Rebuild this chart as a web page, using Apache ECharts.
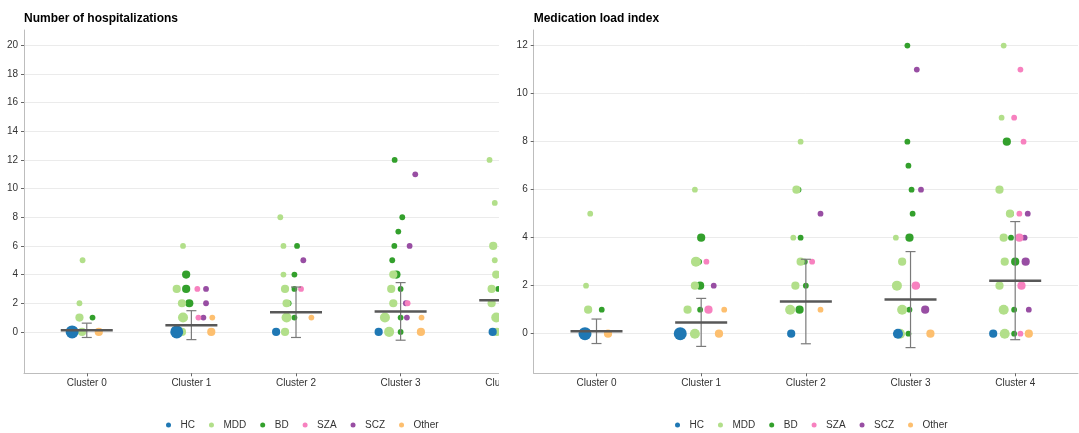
<!DOCTYPE html>
<html><head><meta charset="utf-8">
<script src="https://cdn.jsdelivr.net/npm/echarts@6/dist/echarts.min.js"></script>
<style>
html,body{margin:0;padding:0;background:#fff;width:1079px;height:433px;overflow:hidden}
#lw{position:absolute;left:0;top:0;width:499px;height:433px;overflow:hidden}
#l{position:absolute;left:0;top:0;width:620px;height:433px}
#r{position:absolute;left:499px;top:0;width:580px;height:433px}
</style></head><body>
<div id="lw"><div id="l"></div></div><div id="r"></div>
<script>
const categories = ['Cluster 0','Cluster 1','Cluster 2','Cluster 3','Cluster 4'];
const groups = ['HC','MDD','BD','SZA','SCZ','Other'];
const yTicksHosp = [0,2,4,6,8,10,12,14,16,18,20];
const yTicksMed = [0,2,4,6,8,10,12];

// points: [cluster index, value, jitter (in cluster units), count]
const hospHC = [[0,0,-0.14,5],[1,0,-0.14,5],[2,0,-0.19,2],[3,0,-0.21,2],[4,0,-0.12,2]];
const hospMDD = [
 [0,5,-0.04,1],[0,2,-0.07,1],[0,1,-0.07,2],[0,0,-0.045,2],
 [1,6,-0.08,1],[1,3,-0.14,2],[1,2,-0.09,2],[1,1,-0.08,3],[1,0,-0.09,2],
 [2,8,-0.15,1],[2,6,-0.12,1],[2,4,-0.12,1],[2,3,-0.105,2],[2,2,-0.09,2],[2,1,-0.09,3],[2,0,-0.105,2],
 [3,4,-0.07,2],[3,3,-0.09,2],[3,2,-0.07,2],[3,1,-0.15,3],[3,0,-0.11,3],
 [4,12,-0.15,1],[4,9,-0.10,1],[4,6,-0.115,2],[4,5,-0.10,1],[4,4,-0.086,2],[4,3,-0.13,2],[4,2,-0.13,2],[4,1,-0.086,3],[4,0,-0.08,2]];
const hospBD = [
 [0,1,0.055,1],
 [1,4,-0.05,2],[1,3,-0.05,2],[1,2,-0.02,2],
 [2,6,0.01,1],[2,4,-0.015,1],[2,3,-0.015,1],[2,2,-0.07,1],[2,1,-0.015,1],
 [3,12,-0.057,1],[3,8,0.016,1],[3,7,-0.022,1],[3,6,-0.06,1],[3,5,-0.08,1],[3,4,-0.04,2],[3,3,0,1],[3,1,0,1],[3,0,0,1],
 [4,8,0.03,2],[4,5,0.03,1],[4,4,0.04,1],[4,3,-0.067,1],[4,1,0.03,1],[4,0,0.03,1]];
const hospSZA = [[1,3,0.057,1],[1,1,0.067,1],[2,3,0.048,1],[3,2,0.067,1],[4,11,0.05,1],[4,9,0.03,1],[4,8,0.08,1],[4,5,0.04,1],[4,4,0.04,2],[4,2,0.06,2],[4,0,0.05,1]];
const hospSCZ = [[1,3,0.14,1],[1,2,0.14,1],[1,1,0.115,1],[2,5,0.07,1],[3,11,0.14,1],[3,6,0.086,1],[3,2,0.05,1],[3,1,0.06,1],[4,5,0.12,1],[4,4,0.09,1],[4,3,0.10,2],[4,1,0.13,1]];
const hospOther = [[0,0,0.115,2],[1,1,0.20,1],[1,0,0.19,2],[2,1,0.147,1],[3,1,0.20,1],[3,0,0.194,2],[4,0,0.13,2]];
const hospMean = [0.11,0.47,1.37,1.43,2.21];
const hospSd = [0.50,1.01,1.76,2.01,2.46];

const medHC = [[0,0,-0.11,5],[1,0,-0.20,5],[2,0,-0.14,2],[3,0,-0.12,3],[4,0,-0.21,2]];
const medMDD = [
 [0,5,-0.06,1],[0,2,-0.10,1],[0,1,-0.08,2],[0,0,-0.09,2],
 [1,6,-0.06,1],[1,3,-0.05,3],[1,2,-0.06,2],[1,1,-0.13,2],[1,0,-0.06,3],
 [2,8,-0.05,1],[2,6,-0.09,2],[2,4,-0.12,1],[2,3,-0.05,2],[2,2,-0.10,2],[2,1,-0.15,3],
 [3,4,-0.14,1],[3,3,-0.08,2],[3,2,-0.13,3],[3,1,-0.08,3],[3,0,-0.10,3],
 [4,12,-0.11,1],[4,9,-0.13,1],[4,6,-0.15,2],[4,5,-0.05,2],[4,4,-0.11,2],[4,3,-0.10,2],[4,2,-0.15,2],[4,1,-0.11,3],[4,0,-0.10,3]];
const medBD = [
 [0,1,0.05,1],
 [1,4,0.00,2],[1,3,-0.02,1],[1,2,-0.01,2],[1,1,-0.01,1],
 [2,6,-0.07,1],[2,4,-0.05,1],[2,3,-0.01,1],[2,2,0.00,1],[2,1,-0.06,2],
 [3,12,-0.03,1],[3,8,-0.03,1],[3,7,-0.02,1],[3,6,0.01,1],[3,5,0.02,1],[3,4,-0.01,2],[3,1,-0.01,1],[3,0,-0.02,1],
 [4,8,-0.08,2],[4,5,-0.04,1],[4,4,-0.04,1],[4,3,0.00,2],[4,1,-0.01,1],[4,0,-0.01,1]];
const medSZA = [[1,3,0.05,1],[1,1,0.07,2],[2,3,0.06,1],[3,2,0.05,2],[4,11,0.05,1],[4,9,-0.01,1],[4,8,0.08,1],[4,5,0.04,1],[4,4,0.04,2],[4,2,0.06,2],[4,0,0.05,1]];
const medSCZ = [[1,2,0.12,1],[2,5,0.14,1],[3,11,0.06,1],[3,6,0.10,1],[3,2,0.06,1],[3,1,0.14,2],[4,5,0.12,1],[4,4,0.09,1],[4,3,0.10,2],[4,1,0.13,1]];
const medOther = [[0,0,0.11,2],[1,1,0.22,1],[1,0,0.17,2],[2,1,0.14,1],[3,0,0.19,2],[4,0,0.13,2]];
const medMean = [0.10,0.47,1.34,1.42,2.21];
const medSd = [0.51,1.00,1.76,2.00,2.46];

const colors = {HC:'#1f78b4', MDD:'#b2df8a', BD:'#33a02c', SZA:'#f781bf', SCZ:'#984ea3', Other:'#fdbf6f'};
const FONT = '"Liberation Sans", Arial, Helvetica, sans-serif';

function makeOption(cfg){
  const drawOrder = ['Other','SCZ','SZA','BD','MDD','HC'];
  const series = drawOrder.map(g => ({
    name: g, type: 'scatter', silent: true, animation: false,
    itemStyle: {color: colors[g], opacity: 1},
    symbolSize: d => 5.8 * Math.sqrt(d[2]),
    data: cfg.pts[g].map(p => [p[0] + p[2], p[1], p[3]])
  }));
  series.push({
    name: 'meanSd', type: 'custom', silent: true, animation: false, z: 5,
    data: cfg.mean.map((m, i) => [i, m, cfg.sd[i]]),
    renderItem: (params, api) => {
      const c = api.value(0), m = api.value(1), s = api.value(2);
      const pm = api.coord([c, m]), pt = api.coord([c, m + s]), pb = api.coord([c, m - s]);
      const eb = {stroke: '#7a7a7a', lineWidth: 1.2};
      return {type: 'group', children: [
        {type: 'line', shape: {x1: pt[0], y1: pt[1], x2: pb[0], y2: pb[1]}, style: eb},
        {type: 'line', shape: {x1: pt[0]-5, y1: pt[1], x2: pt[0]+5, y2: pt[1]}, style: eb},
        {type: 'line', shape: {x1: pb[0]-5, y1: pb[1], x2: pb[0]+5, y2: pb[1]}, style: eb},
        {type: 'line', shape: {x1: pm[0]-26, y1: pm[1], x2: pm[0]+26, y2: pm[1]}, style: {stroke: '#585858', lineWidth: 2.5}}
      ]};
    }
  });
  return {
    animation: false,
    textStyle: {fontFamily: FONT},
    title: {text: cfg.title, left: cfg.gridLeft, top: 12, padding: 0,
      textStyle: {fontFamily: FONT, fontSize: 12, fontWeight: 'bold', color: '#000', lineHeight: 14}},
    legend: {data: groups, left: cfg.legendLeft, top: 420, padding: 0, icon: 'circle',
      itemWidth: 14, itemHeight: 5, itemGap: 14, selectedMode: false,
      textStyle: {fontFamily: FONT, fontSize: 10, color: '#333'}},
    grid: {left: cfg.gridLeft, top: 30, width: cfg.gridWidth, height: 343.3},
    xAxis: {type: 'value', min: -0.6, max: 4.6,
      axisLine: {onZero: false, lineStyle: {color: '#bdbdbd', width: 1}},
      axisTick: {customValues: [0,1,2,3,4], length: 3, lineStyle: {color: '#666'}},
      axisLabel: {customValues: [0,1,2,3,4], formatter: v => categories[v], margin: 5,
        fontFamily: FONT, fontSize: 10, color: '#333'},
      splitLine: {show: false}},
    yAxis: {type: 'value', min: cfg.yMin, max: cfg.yMax,
      axisLine: {show: true, onZero: false, lineStyle: {color: '#bdbdbd', width: 1}},
      axisTick: {show: true, customValues: cfg.yTicks, length: 3, lineStyle: {color: '#666'}},
      axisLabel: {customValues: cfg.yTicks, margin: 6, fontFamily: FONT, fontSize: 10, color: '#333'},
      splitLine: {show: true, lineStyle: {color: '#ebebeb', width: 1}}},
    series
  };
}

const left = echarts.init(document.getElementById('l'), null, {renderer: 'canvas'});
left.setOption(makeOption({
  title: 'Number of hospitalizations', gridLeft: 24, gridWidth: 544, legendLeft: 166,
  yMin: -2.89, yMax: 21.07, yTicks: yTicksHosp,
  pts: {HC: hospHC, MDD: hospMDD, BD: hospBD, SZA: hospSZA, SCZ: hospSCZ, Other: hospOther},
  mean: hospMean, sd: hospSd
}));
const right = echarts.init(document.getElementById('r'), null, {renderer: 'canvas'});
right.setOption(makeOption({
  title: 'Medication load index', gridLeft: 34.7, gridWidth: 544.3, legendLeft: 176,
  yMin: -1.65, yMax: 12.65, yTicks: yTicksMed,
  pts: {HC: medHC, MDD: medMDD, BD: medBD, SZA: medSZA, SCZ: medSCZ, Other: medOther},
  mean: medMean, sd: medSd
}));
</script>
</body></html>
